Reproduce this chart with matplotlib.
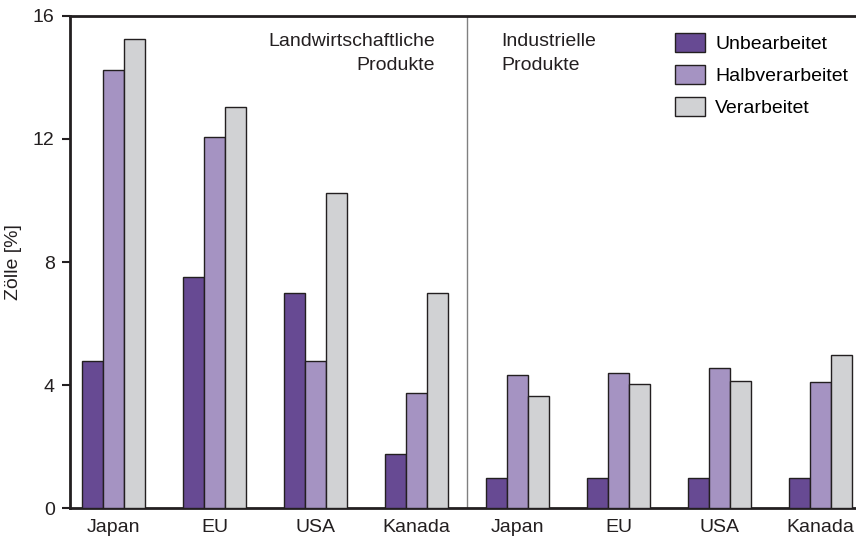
import matplotlib.pyplot as plt
import numpy as np

plt.rcParams['font.family'] = ['Liberation Sans', 'DejaVu Sans']

# Data
countries = ['Japan', 'EU', 'USA', 'Kanada', 'Japan', 'EU', 'USA', 'Kanada']
series = ['Unbearbeitet', 'Halbverarbeitet', 'Verarbeitet']
unbearbeitet = [4.8, 7.5, 7.0, 1.75, 1.0, 1.0, 1.0, 1.0]
halbverarbeitet = [14.25, 12.05, 4.8, 3.75, 4.33, 4.4, 4.55, 4.1]
verarbeitet = [15.25, 13.05, 10.25, 7.0, 3.65, 4.05, 4.12, 4.97]

colors = ['#674a93', '#a593c2', '#d1d2d4']
edge = '#231f20'
fs = 14

fig = plt.figure(figsize=(8.56, 5.38), dpi=100)
ax = fig.add_axes([0.0818, 0.0552, 1 - 0.0818, 0.9708 - 0.0552])

x = np.arange(len(countries))
w = 0.21
for i, (vals, name) in enumerate(zip([unbearbeitet, halbverarbeitet, verarbeitet], series)):
    ax.bar(x + (i - 1) * w, vals, w, color=colors[i], edgecolor=edge, linewidth=1.0,
           label=name, zorder=3)

# divider between agricultural and industrial products
ax.axvline(3.5, color='#808080', lw=1.0, zorder=2)

ax.set_xlim(-0.43, 7.35)
ax.set_ylim(0, 16)
ax.set_yticks([0, 4, 8, 12, 16])
ax.set_xticks(x)
ax.set_xticklabels(countries)
ax.tick_params(axis='x', length=0, pad=8, labelsize=fs, colors='#231f20')
ax.tick_params(axis='y', length=6, width=1.5, pad=5, labelsize=fs, colors='#231f20', direction='out')
for s in ['left', 'bottom', 'top']:
    ax.spines[s].set_linewidth(2)
    ax.spines[s].set_color('#231f20')
ax.spines['right'].set_visible(False)

ax.set_ylabel('Zölle [%]', fontsize=fs, color='#231f20', labelpad=8)

ax.text(3.18, 15.45, 'Landwirtschaftliche\nProdukte', ha='right', va='top', fontsize=fs,
        linespacing=1.55, color='#231f20')
ax.text(3.84, 15.45, 'Industrielle\nProdukte', ha='left', va='top', fontsize=fs,
        linespacing=1.55, color='#231f20')

ax.legend(loc='upper left', bbox_to_anchor=(0.77, 0.965), frameon=False, fontsize=fs,
          handlelength=1.55, handleheight=1.13, handletextpad=0.5, labelspacing=0.62,
          borderaxespad=0, borderpad=0)

fig.savefig('out.png', dpi=100)
